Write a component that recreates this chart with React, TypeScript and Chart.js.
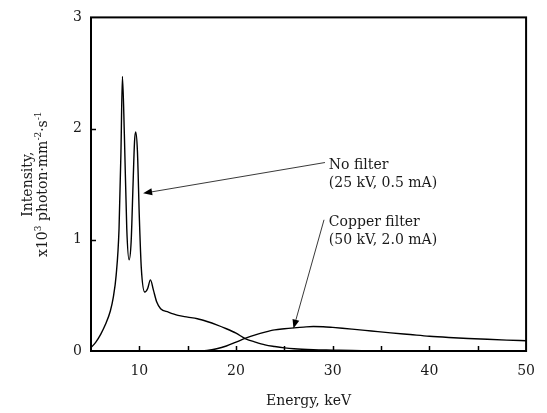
import React, { useEffect, useRef } from "react";
import { Chart, registerables } from "chart.js";

Chart.register(...registerables);

// ---------- data ----------
const noFilterEnergy = [5, 5.5, 6, 6.5, 7, 7.3, 7.6, 7.9, 8.1, 8.25, 8.45, 8.7, 8.94, 9.15, 9.35, 9.5, 9.62, 9.8, 10.0, 10.2, 10.56, 10.85, 11.15, 11.45, 11.8, 12.2, 13, 14, 15, 16, 17, 18, 19, 20, 21, 22, 23, 24, 25, 26, 28, 30, 32, 35];
const noFilterIntensity = [0.03, 0.08, 0.15, 0.24, 0.36, 0.48, 0.68, 1.1, 1.8, 2.47, 1.95, 1.1, 0.82, 0.98, 1.5, 1.88, 1.97, 1.8, 1.2, 0.75, 0.53, 0.56, 0.64, 0.55, 0.44, 0.38, 0.35, 0.32, 0.305, 0.29, 0.265, 0.235, 0.2, 0.16, 0.11, 0.08, 0.055, 0.04, 0.028, 0.02, 0.012, 0.008, 0.004, 0.0];

const copperEnergy = [16, 17, 18, 19, 20, 21, 22, 23, 24, 25, 26, 27, 28, 29, 30, 31, 32, 34, 36, 38, 40, 42, 44, 46, 48, 50];
const copperIntensity = [0.0, 0.005, 0.02, 0.045, 0.08, 0.115, 0.145, 0.17, 0.19, 0.2, 0.208, 0.215, 0.22, 0.218, 0.212, 0.205, 0.197, 0.18, 0.163, 0.148, 0.133, 0.122, 0.113, 0.105, 0.098, 0.092];

const xTickLabels = [10, 20, 30, 40, 50];
const xTickMarks = [10, 15, 20, 25, 30, 35, 40, 45];
const yTickLabels = [0, 1, 2, 3];
const yTickMarks = [1, 2];

const xTitle = "Energy, keV";
const yTitleLine1 = "Intensity,";
const yTitleLine2 = [
  { t: "x10", sup: false },
  { t: "3", sup: true },
  { t: " photon\u00B7mm", sup: false },
  { t: "-2", sup: true },
  { t: "\u00B7s", sup: false },
  { t: "-1", sup: true },
];

const noFilterLabel = ["No filter", "(25 kV, 0.5 mA)"];
const noFilterLabelAt = [29.6, 1.671];
const noFilterArrowFrom = [29.2, 1.695];
const noFilterArrowTo = [10.39, 1.418];

const copperLabel = ["Copper filter", "(50 kV, 2.0 mA)"];
const copperLabelAt = [29.6, 1.155];
const copperArrowFrom = [29.1, 1.18];
const copperArrowTo = [25.94, 0.202];

const FONT = "'DejaVu Serif', serif";
const INK = "#1a1a1a";

function toPoints(xs: number[], ys: number[]) {
  return xs.map((x, i) => ({ x, y: ys[i] }));
}

const decorPlugin = {
  id: "decor",
  afterDraw(chart: any) {
    const { ctx, chartArea, scales } = chart;
    const xs = scales.x;
    const ys = scales.y;
    const { left, right, top, bottom } = chartArea;
    ctx.save();
    // frame
    ctx.strokeStyle = "#000";
    ctx.lineWidth = 2;
    ctx.strokeRect(left, top, right - left, bottom - top);
    // tick marks (inward)
    ctx.lineWidth = 1.5;
    ctx.beginPath();
    xTickMarks.forEach((v) => {
      const px = Math.round(xs.getPixelForValue(v)) + 0.5;
      ctx.moveTo(px, bottom);
      ctx.lineTo(px, bottom - 5);
    });
    yTickMarks.forEach((v) => {
      const py = Math.round(ys.getPixelForValue(v)) + 0.5;
      ctx.moveTo(left, py);
      ctx.lineTo(left + 5, py);
    });
    ctx.stroke();

    // x title
    ctx.fillStyle = INK;
    ctx.font = `14px ${FONT}`;
    ctx.textAlign = "center";
    ctx.textBaseline = "alphabetic";
    ctx.fillText(xTitle, (left + right) / 2, 405);

    // y title (rotated)
    const cy = (top + bottom) / 2;
    ctx.save();
    ctx.translate(32, cy);
    ctx.rotate(-Math.PI / 2);
    ctx.fillText(yTitleLine1, 0, 0);
    ctx.restore();

    ctx.save();
    ctx.translate(47, cy);
    ctx.rotate(-Math.PI / 2);
    const big = `14px ${FONT}`;
    const small = `9px ${FONT}`;
    let total = 0;
    yTitleLine2.forEach((s) => {
      ctx.font = s.sup ? small : big;
      total += ctx.measureText(s.t).width;
    });
    let cx = -total / 2;
    ctx.textAlign = "left";
    yTitleLine2.forEach((s) => {
      ctx.font = s.sup ? small : big;
      ctx.fillText(s.t, cx, s.sup ? -6 : 0);
      cx += ctx.measureText(s.t).width;
    });
    ctx.restore();

    // annotations
    const drawArrow = (from: number[], to: number[]) => {
      const x1 = xs.getPixelForValue(from[0]);
      const y1 = ys.getPixelForValue(from[1]);
      const x2 = xs.getPixelForValue(to[0]);
      const y2 = ys.getPixelForValue(to[1]);
      const ang = Math.atan2(y2 - y1, x2 - x1);
      const headLen = 9;
      const headW = 3.5;
      const bx = x2 - headLen * Math.cos(ang);
      const by = y2 - headLen * Math.sin(ang);
      ctx.strokeStyle = "#222";
      ctx.lineWidth = 0.9;
      ctx.beginPath();
      ctx.moveTo(x1, y1);
      ctx.lineTo(bx, by);
      ctx.stroke();
      ctx.fillStyle = "#000";
      ctx.beginPath();
      ctx.moveTo(x2, y2);
      ctx.lineTo(bx + headW * Math.sin(ang), by - headW * Math.cos(ang));
      ctx.lineTo(bx - headW * Math.sin(ang), by + headW * Math.cos(ang));
      ctx.closePath();
      ctx.fill();
    };
    drawArrow(noFilterArrowFrom, noFilterArrowTo);
    drawArrow(copperArrowFrom, copperArrowTo);

    const drawLabel = (lines: string[], at: number[]) => {
      const px = xs.getPixelForValue(at[0]);
      const py = ys.getPixelForValue(at[1]);
      ctx.fillStyle = INK;
      ctx.font = `14px ${FONT}`;
      ctx.textAlign = "left";
      ctx.textBaseline = "middle";
      lines.forEach((l, i) => ctx.fillText(l, px, py + i * 18));
    };
    drawLabel(noFilterLabel, noFilterLabelAt);
    drawLabel(copperLabel, copperLabelAt);

    ctx.restore();
  },
};

export default function App() {
  const ref = useRef<HTMLCanvasElement | null>(null);
  useEffect(() => {
    document.body.style.margin = "0";
    const canvas = ref.current;
    if (!canvas) return;
    const chart = new Chart(canvas, {
      type: "line",
      data: {
        datasets: [
          {
            label: "No filter",
            data: toPoints(noFilterEnergy, noFilterIntensity),
            borderColor: "#000",
            borderWidth: 1.4,
            pointRadius: 0,
            cubicInterpolationMode: "monotone",
            fill: false,
          },
          {
            label: "Copper filter",
            data: toPoints(copperEnergy, copperIntensity),
            borderColor: "#000",
            borderWidth: 1.4,
            pointRadius: 0,
            cubicInterpolationMode: "monotone",
            fill: false,
          },
        ],
      },
      options: {
        responsive: false,
        animation: false,
        events: [],
        layout: { padding: { top: 14, right: 19, left: 0, bottom: 0 } },
        plugins: {
          legend: { display: false },
          tooltip: { enabled: false },
        },
        scales: {
          x: {
            type: "linear",
            min: 5,
            max: 50,
            grid: { display: false, drawTicks: false },
            border: { display: false },
            afterFit: (s: any) => {
              s.height = 62;
            },
            afterBuildTicks: (s: any) => {
              s.ticks = xTickLabels.map((v) => ({ value: v }));
            },
            ticks: {
              padding: 12,
              color: INK,
              font: { family: FONT, size: 14 },
              maxRotation: 0,
              autoSkip: false,
              callback: (v: any) => String(v),
            },
          },
          y: {
            type: "linear",
            min: 0,
            max: 3,
            grid: { display: false, drawTicks: false },
            border: { display: false },
            afterFit: (s: any) => {
              s.width = 91;
            },
            afterBuildTicks: (s: any) => {
              s.ticks = yTickLabels.map((v) => ({ value: v }));
            },
            ticks: {
              padding: 9,
              color: INK,
              font: { family: FONT, size: 14 },
              callback: (v: any) => String(v),
            },
          },
        },
      },
      plugins: [decorPlugin],
    } as any);
    return () => chart.destroy();
  }, []);
  return (
    <div style={{ width: 547, height: 413 }}>
      <canvas ref={ref} width={547} height={413} />
    </div>
  );
}
